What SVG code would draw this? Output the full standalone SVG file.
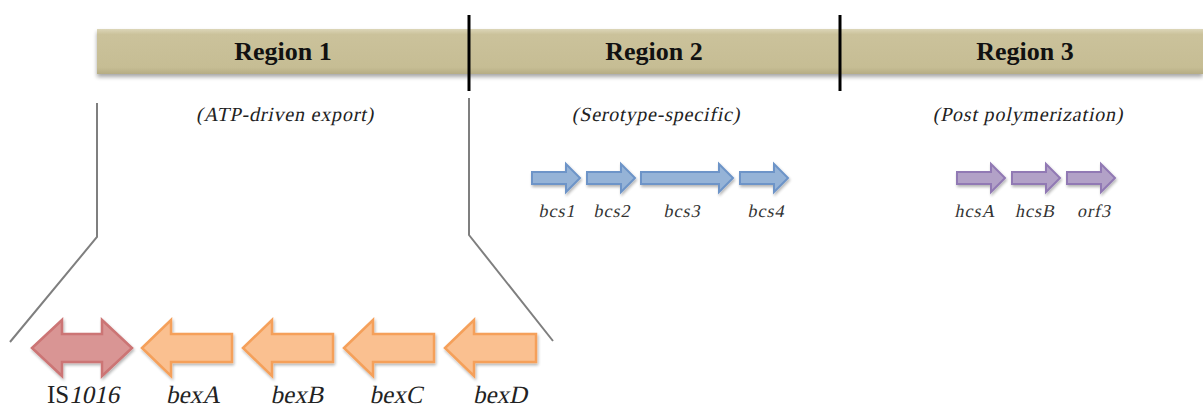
<svg xmlns="http://www.w3.org/2000/svg" width="1203" height="410" viewBox="0 0 1203 410">
<defs>
<linearGradient id="barg" x1="0" y1="0" x2="0" y2="1">
<stop offset="0" stop-color="#dcd6b8"/>
<stop offset="0.12" stop-color="#cbc29b"/>
<stop offset="0.85" stop-color="#c6bd94"/>
<stop offset="1" stop-color="#b5ac84"/>
</linearGradient>
<filter id="sh" x="-10%" y="-20%" width="120%" height="160%">
<feGaussianBlur in="SourceAlpha" stdDeviation="2"/>
<feOffset dx="0" dy="3" result="b"/>
<feComponentTransfer><feFuncA type="linear" slope="0.35"/></feComponentTransfer>
<feMerge><feMergeNode/><feMergeNode in="SourceGraphic"/></feMerge>
</filter>
<filter id="sh2" x="-20%" y="-30%" width="140%" height="170%">
<feGaussianBlur in="SourceAlpha" stdDeviation="1.5"/>
<feOffset dx="1" dy="2" result="b"/>
<feComponentTransfer><feFuncA type="linear" slope="0.3"/></feComponentTransfer>
<feMerge><feMergeNode/><feMergeNode in="SourceGraphic"/></feMerge>
</filter>
</defs>
<style>
.rt{font-family:"Liberation Serif",serif;font-weight:bold;font-size:26px;fill:#111;text-anchor:middle}
.st{font-family:"Liberation Serif",serif;font-size:20px;letter-spacing:0.8px;fill:#222;text-anchor:middle}
.gl{font-family:"Liberation Serif",serif;font-size:18px;letter-spacing:1px;fill:#333;text-anchor:middle}
.bl{font-family:"Liberation Serif",serif;font-size:25px;fill:#222;text-anchor:middle}
.sep{stroke:#000;stroke-width:3}
.gry{stroke:#7f7f7f;stroke-width:2;fill:none}
.blue{fill:#95b3d7;stroke:#6d94c8;stroke-width:2;filter:url(#sh2)}
.purp{fill:#b2a1c7;stroke:#9179b4;stroke-width:2;filter:url(#sh2)}
.orng{fill:#fac090;stroke:#f5a05a;stroke-width:2.5;filter:url(#sh2)}
.red{fill:#d99594;stroke:#cc7474;stroke-width:2.5;filter:url(#sh2)}
</style>

<g id="bar">
<rect x="97" y="29" width="1106" height="45" fill="url(#barg)" filter="url(#sh)"/>
</g>
<g id="separators">
<line class="sep" x1="469" y1="15" x2="469" y2="91"/>
<line class="sep" x1="840" y1="15" x2="840" y2="91"/>
</g>

<g id="region1">
<text class="rt" x="283" y="60">Region 1</text>
<text class="st" transform="translate(285,121) skewX(-12)">(ATP-driven export)</text>
</g>
<g id="region2">
<text class="rt" x="654" y="60">Region 2</text>
<text class="st" transform="translate(656,121) skewX(-12)">(Serotype-specific)</text>
</g>
<g id="region3">
<text class="rt" x="1025" y="60">Region 3</text>
<text class="st" transform="translate(1028,121) skewX(-12)">(Post polymerization)</text>
</g>

<g id="connectors">
<polyline class="gry" points="97,103 97,237 10,342"/>
<polyline class="gry" points="469,98 469,235 553,341"/>
</g>

<g id="bcs1"><path class="blue" d="M532,172 H566 V164 L580,178 L566,192 V184 H532 Z"/><text class="gl" transform="translate(557,217) skewX(-12)">bcs1</text></g>
<g id="bcs2"><path class="blue" d="M587,172 H621 V164 L635,178 L621,192 V184 H587 Z"/><text class="gl" transform="translate(612,217) skewX(-12)">bcs2</text></g>
<g id="bcs3"><path class="blue" d="M641,172 H719 V164 L733,178 L719,192 V184 H641 Z"/><text class="gl" transform="translate(682,217) skewX(-12)">bcs3</text></g>
<g id="bcs4"><path class="blue" d="M740,172 H774 V164 L788,178 L774,192 V184 H740 Z"/><text class="gl" transform="translate(766,217) skewX(-12)">bcs4</text></g>

<g id="hcsA"><path class="purp" d="M957,172 H991 V164 L1005,178 L991,192 V184 H957 Z"/><text class="gl" transform="translate(975,217) skewX(-12)">hcsA</text></g>
<g id="hcsB"><path class="purp" d="M1012,172 H1046 V164 L1060,178 L1046,192 V184 H1012 Z"/><text class="gl" transform="translate(1035,217) skewX(-12)">hcsB</text></g>
<g id="orf3"><path class="purp" d="M1067,172 H1101 V164 L1115,178 L1101,192 V184 H1067 Z"/><text class="gl" transform="translate(1094,217) skewX(-12)">orf3</text></g>

<g id="IS1016"><path class="red" d="M32,348 L62,320 V334 H102 V320 L132,348 L102,376 V362 H62 V376 Z"/><text class="bl" x="58" y="403">IS</text><text class="bl" transform="translate(94,403) skewX(-12)">1016</text></g>
<g id="bexA"><path class="orng" d="M142,348 L171,320 V334 H232 V362 H171 V376 Z"/><text class="bl" transform="translate(193,403) skewX(-12)">bexA</text></g>
<g id="bexB"><path class="orng" d="M243,348 L272,320 V334 H333 V362 H272 V376 Z"/><text class="bl" transform="translate(297,403) skewX(-12)">bexB</text></g>
<g id="bexC"><path class="orng" d="M344,348 L373,320 V334 H434 V362 H373 V376 Z"/><text class="bl" transform="translate(396,403) skewX(-12)">bexC</text></g>
<g id="bexD"><path class="orng" d="M445,348 L474,320 V334 H536 V362 H474 V376 Z"/><text class="bl" transform="translate(500,403) skewX(-12)">bexD</text></g>
</svg>
